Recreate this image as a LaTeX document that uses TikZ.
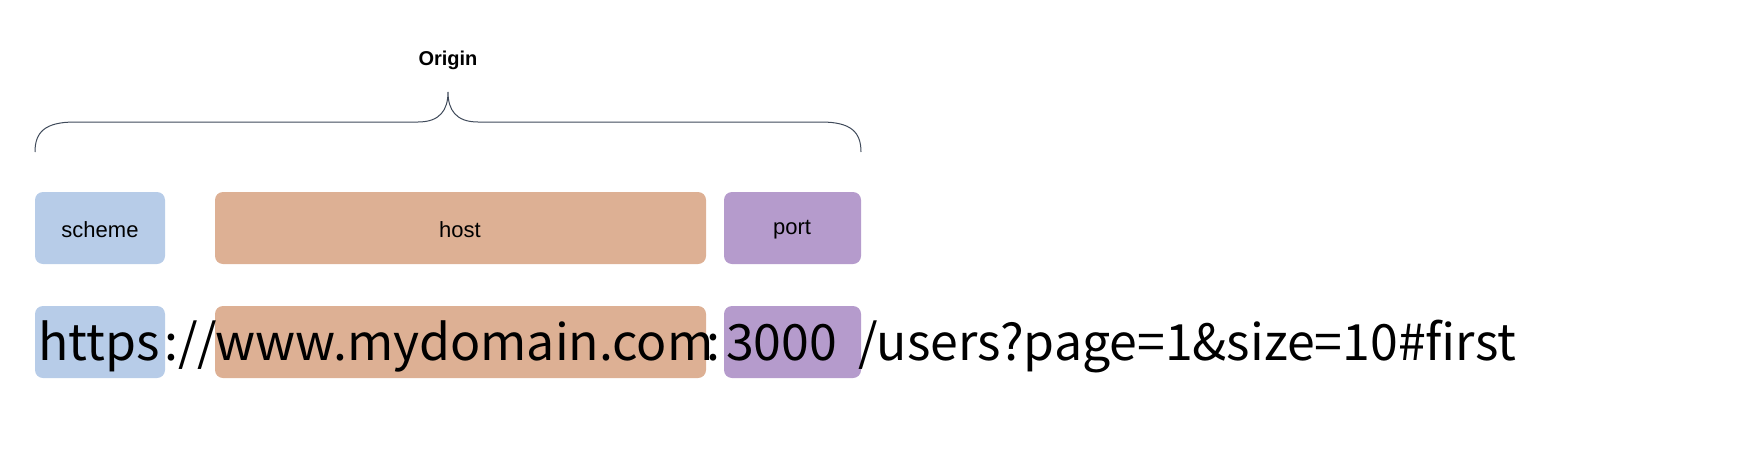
\documentclass[tikz,border=0pt]{standalone}
\usepackage{fontspec}
\setmainfont{Liberation Sans}
\newfontfamily\urlfont{Noto Sans CJK KR}
\definecolor{cblue}{HTML}{B7CCE8}
\definecolor{corange}{HTML}{DDB094}
\definecolor{cpurple}{HTML}{B59BCC}
\definecolor{cbrace}{HTML}{3F4A5A}
\begin{document}
\begin{tikzpicture}[x=1pt,y=-1pt,
  box/.style={rounded corners=8pt,inner sep=0pt},
  lab/.style={font=\fontsize{22}{24}\selectfont},
  urlt/.style={anchor=base west,inner sep=0pt,font=\urlfont\fontsize{50}{56}\selectfont}]
\fill[box,cblue] (35,192) rectangle (165,264);
\fill[box,corange] (215,192) rectangle (706,264);
\fill[box,cpurple] (724,192) rectangle (861,264);
\node[lab] (scheme) at (100,230) {scheme};
\node[lab] (host) at (460,230) {host};
\node[lab] (port) at (792,230) {port};
\fill[box,cblue] (35,306) rectangle (165,378);
\fill[box,corange] (215,306) rectangle (706,378);
\fill[box,cpurple] (724,306) rectangle (861,378);
\node[urlt] (u1) at (38,360) {https};
\node[urlt] (u2) at (164,360) {://};
\node[urlt] (u3) at (215,360) {www.mydomain.com};
\node[urlt] (u4) at (706,360) {:};
\node[urlt] (u5) at (726,360) {3000};
\node[urlt] (u6) at (858,360) {/users?page=1\&size=10\#first};
\draw[cbrace,line width=1pt] (35,152) .. controls (35,132) and (45,122) .. (75,122) -- (418,122) .. controls (440,122) and (448,110) .. (448,92)
  .. controls (448,110) and (456,122) .. (478,122) -- (821,122) .. controls (851,122) and (861,132) .. (861,152);
\node[font=\bfseries\fontsize{20}{22}\selectfont] (origin) at (448,60) {Origin};
\pgfresetboundingbox
\useasboundingbox (0,0) rectangle (1756,466);
\end{tikzpicture}
\end{document}
